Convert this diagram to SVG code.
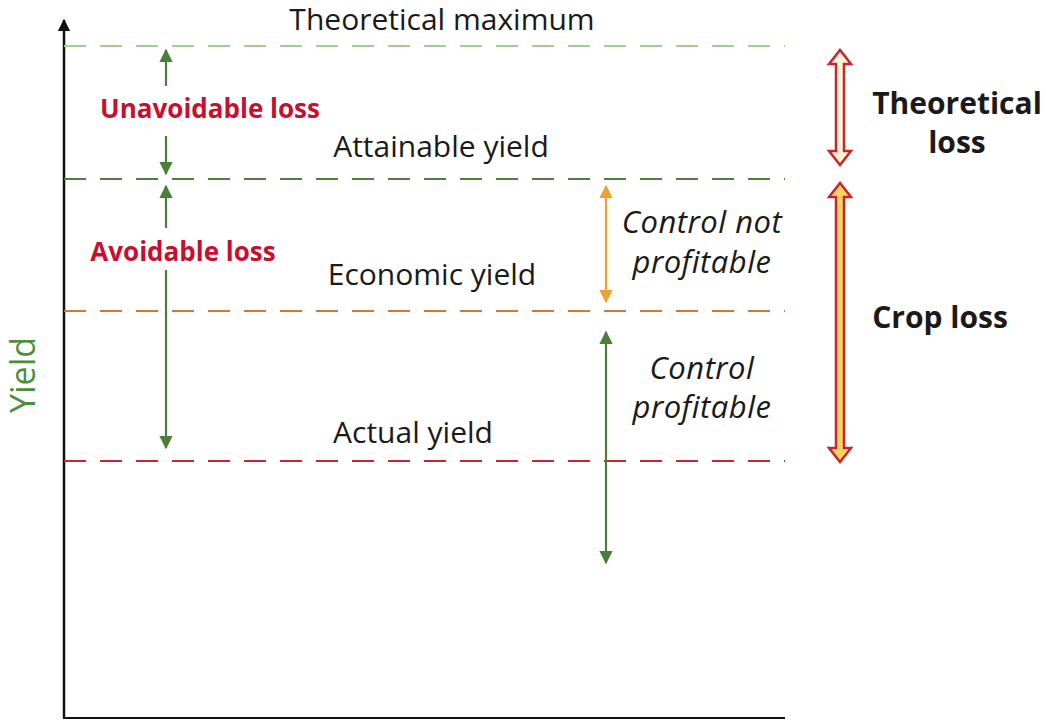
<svg xmlns="http://www.w3.org/2000/svg" width="1046" height="721" viewBox="0 0 1046 721">
<defs>
<style>
text{font-family:"Open Sans","Liberation Sans",sans-serif}
.lbl{font-size:30px;fill:#1a1a1a}
.it{font-size:31px;font-style:italic;fill:#1a1a1a;letter-spacing:0.5px}
.red{font-size:26px;font-weight:bold;fill:#c8102e}
.bold{font-size:30px;font-weight:bold;fill:#1a1a1a}
.d{stroke-width:2;stroke-dasharray:22 14;fill:none}
.ga{stroke:#4a7f3a;stroke-width:2.2;fill:none}
</style>
<marker id="g" viewBox="0 0 10 10" refX="9" refY="5" markerWidth="6" markerHeight="6" orient="auto-start-reverse"><path d="M0,0L10,5L0,10z" fill="#4a7f3a"/></marker>
<marker id="o" viewBox="0 0 10 10" refX="9" refY="5" markerWidth="6" markerHeight="6" orient="auto-start-reverse"><path d="M0,0L10,5L0,10z" fill="#f0a030"/></marker>
<marker id="k" viewBox="0 0 10 10" refX="9" refY="5" markerWidth="5" markerHeight="5" orient="auto"><path d="M0,0L10,5L0,10z" fill="#111"/></marker>
</defs>
<rect width="1046" height="721" fill="#fff"/>
<g id="axes">
<line x1="64" y1="718" x2="64" y2="20" stroke="#111" stroke-width="2.5" marker-end="url(#k)"/>
<line x1="63" y1="718" x2="785" y2="718" stroke="#111" stroke-width="2"/>
<text x="35" y="375" transform="rotate(-90 35 375)" text-anchor="middle" style="font-size:34px;fill:#4a8f3a">Yield</text>
</g>
<g id="connectors">
<line class="d" x1="64" y1="46" x2="785" y2="46" stroke="#9fd08f"/>
<line class="d" x1="64" y1="179" x2="785" y2="179" stroke="#4a7f3a"/>
<line class="d" x1="64" y1="311" x2="785" y2="311" stroke="#d2782a"/>
<line class="d" x1="64" y1="461" x2="785" y2="461" stroke="#c8262a"/>
<line class="ga" x1="166" y1="86" x2="166" y2="50" marker-end="url(#g)"/>
<line class="ga" x1="166" y1="136" x2="166" y2="174" marker-end="url(#g)"/>
<line class="ga" x1="166" y1="228" x2="166" y2="186" marker-end="url(#g)"/>
<line class="ga" x1="166" y1="270" x2="166" y2="448" marker-end="url(#g)"/>
<line x1="606" y1="186" x2="606" y2="302" stroke="#f0a030" stroke-width="2.2" marker-start="url(#o)" marker-end="url(#o)"/>
<line class="ga" x1="606" y1="332" x2="606" y2="563" marker-start="url(#g)" marker-end="url(#g)"/>
<path d="M840,50 L851,64 L844,64 L844,151 L851,151 L840,165 L829,151 L836,151 L836,64 L829,64 Z" fill="#fdf2d8" stroke="#c8262a" stroke-width="2.5"/>
<path d="M840,183 L851,197 L844,197 L844,448 L851,448 L840,462 L829,448 L836,448 L836,197 L829,197 Z" fill="#fbd364" stroke="#c8262a" stroke-width="2.5"/>
</g>
<g id="labels">
<text class="lbl" x="442" y="30" text-anchor="middle">Theoretical maximum</text>
<text class="red" x="210" y="118" text-anchor="middle">Unavoidable loss</text>
<text class="lbl" x="441" y="157" text-anchor="middle">Attainable yield</text>
<text class="red" x="183" y="261" text-anchor="middle">Avoidable loss</text>
<text class="lbl" x="432" y="285" text-anchor="middle">Economic yield</text>
<text class="lbl" x="413" y="443" text-anchor="middle">Actual yield</text>
<text class="it" x="702" y="233" text-anchor="middle">Control not</text>
<text class="it" x="702" y="273" text-anchor="middle">profitable</text>
<text class="it" x="702" y="379" text-anchor="middle">Control</text>
<text class="it" x="702" y="418" text-anchor="middle">profitable</text>
<text class="bold" x="957" y="114" text-anchor="middle">Theoretical</text>
<text class="bold" x="957" y="153" text-anchor="middle">loss</text>
<text class="bold" x="940" y="328" text-anchor="middle">Crop loss</text>
</g>
</svg>
